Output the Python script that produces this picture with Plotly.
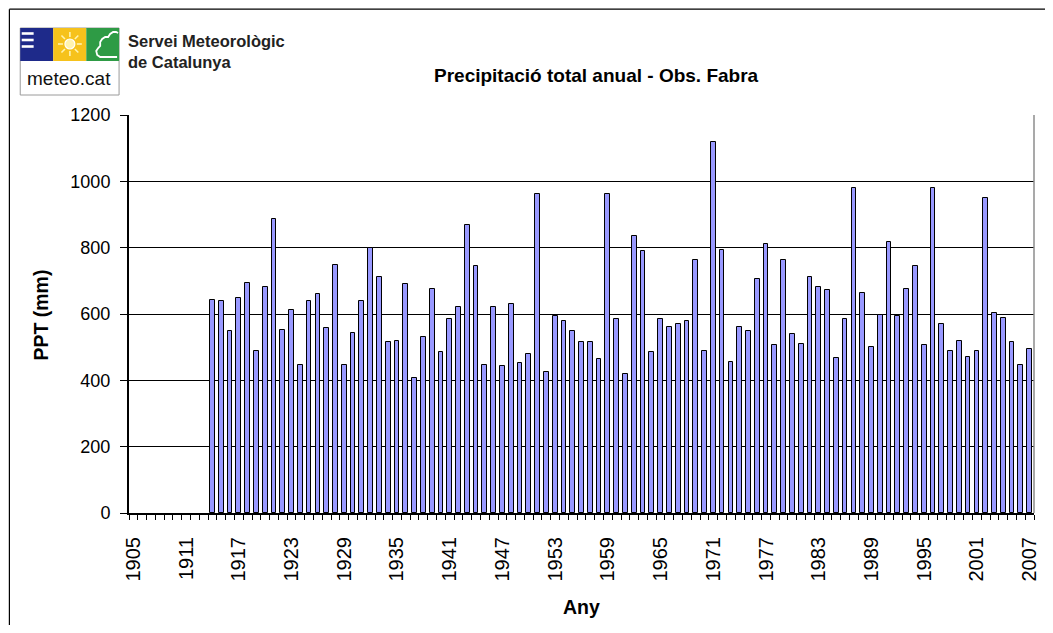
import math
import plotly.graph_objects as go

# ---------------- data ----------------
years = list(range(1905, 2008))
precip_known = [
    643, 638, 548, 648, 694, 488, 680, 885, 552, 611,   # 1914-1923
    447, 638, 661, 557, 748, 447, 543, 638, 799, 713,   # 1924-1933
    516, 520, 689, 406, 530, 675, 484, 584, 620, 867,   # 1934-1943
    744, 447, 620, 442, 630, 452, 479, 963, 424, 593,   # 1944-1953
    579, 548, 516, 516, 465, 963, 584, 420, 835, 789,   # 1954-1963
    484, 584, 561, 571, 580, 762, 488, 1118, 794, 456,  # 1964-1973
    561, 548, 707, 812, 506, 762, 539, 511, 712, 680,   # 1974-1983
    671, 466, 584, 981, 662, 502, 598, 816, 593, 675,   # 1984-1993
    744, 506, 981, 571, 488, 520, 470, 488, 949, 602,   # 1994-2003
    588, 516, 447, 493,                                 # 2004-2007
]
precip = [None] * 9 + precip_known          # 1905-1913 without data
label_years = list(range(1905, 2008, 6))
label_text = [str(y) for y in label_years]
y_ticks = [0, 200, 400, 600, 800, 1000, 1200]

# ---------------- geometry helpers (page pixel -> paper) ----------------
OFF = 8                       # page body margin
W, H = 1053 - 2 * OFF, 633 - 2 * OFF
L, R, T, B = 129, 1040, 115, 513   # plot area in page pixels
PW, PH = R - L, B - T


def px(x):
    return (x - L) / PW


def py(y):
    return (B - y) / PH


FONT = "Arial, Liberation Sans, sans-serif"

fig = go.Figure()
fig.add_trace(go.Bar(
    x=years, y=precip, width=0.54,
    marker=dict(color="#9999FF", line=dict(color="#000000", width=1)),
    hoverinfo="x+y",
))

shapes = []
# outer frame: left and top edges
shapes.append(dict(type="line", xref="paper", yref="paper",
                   x0=px(8.6), x1=px(8.6), y0=py(9.2), y1=py(640),
                   line=dict(color="black", width=1.2), layer="below"))
shapes.append(dict(type="line", xref="paper", yref="paper",
                   x0=px(8.6), x1=px(1060), y0=py(9.2), y1=py(9.2),
                   line=dict(color="black", width=1.2), layer="below"))
# right border of plot area
shapes.append(dict(type="line", xref="paper", yref="paper",
                   x0=1, x1=1, y0=0, y1=1,
                   line=dict(color="#8c8c8c", width=1.5)))

# ---- logo ----
shapes.append(dict(type="rect", xref="paper", yref="paper",
                   x0=px(19.5), x1=px(119), y0=py(95), y1=py(28),
                   fillcolor="white", line=dict(color="#9a9a9a", width=1)))
shapes.append(dict(type="rect", xref="paper", yref="paper",
                   x0=px(19.5), x1=px(52.7), y0=py(61), y1=py(28),
                   fillcolor="#1e2a8a", line=dict(width=0)))
shapes.append(dict(type="rect", xref="paper", yref="paper",
                   x0=px(52.7), x1=px(86), y0=py(61), y1=py(28),
                   fillcolor="#f6c21c", line=dict(width=0)))
shapes.append(dict(type="rect", xref="paper", yref="paper",
                   x0=px(86), x1=px(119), y0=py(61), y1=py(28),
                   fillcolor="#2e9b45", line=dict(width=0)))
for yy in (33.5, 40, 46.5):
    shapes.append(dict(type="rect", xref="paper", yref="paper",
                       x0=px(21), x1=px(33), y0=py(yy + 1.3), y1=py(yy - 1.3),
                       fillcolor="white", line=dict(width=0)))
# sun
cx, cy = 69.5, 44
shapes.append(dict(type="circle", xref="paper", yref="paper",
                   x0=px(cx - 5), x1=px(cx + 5), y0=py(cy + 5), y1=py(cy - 5),
                   fillcolor="#fff3b0", line=dict(color="white", width=1.2)))
for k in range(8):
    a = k * math.pi / 4
    x0, y0 = cx + 7 * math.cos(a), cy + 7 * math.sin(a)
    x1, y1 = cx + 12 * math.cos(a), cy + 12 * math.sin(a)
    shapes.append(dict(type="line", xref="paper", yref="paper",
                       x0=px(x0), x1=px(x1), y0=py(y0), y1=py(y1),
                       line=dict(color="#fff3b0", width=1.6)))


def path_from(points):
    return "M " + " L ".join(f"{px(a):.5f},{py(b):.5f}" for a, b in points)


# cloud outline
cloud_pts = [(117, 57), (100, 57), (97, 55), (96, 51), (98, 48), (100, 46),
             (100, 42), (102, 39), (105, 37), (108, 37), (110, 34), (113, 32),
             (116, 32), (118, 33)]
shapes.append(dict(type="path", xref="paper", yref="paper",
                   path=path_from(cloud_pts),
                   line=dict(color="white", width=1.8)))

annotations = [
    dict(text="meteo.cat", x=px(69), y=py(78.5), xref="paper", yref="paper",
         showarrow=False, font=dict(family=FONT, size=19, color="#111111"),
         xanchor="center", yanchor="middle"),
    dict(text="<b>Servei Meteorològic<br>de Catalunya</b>", x=px(126), y=py(30),
         xref="paper", yref="paper", showarrow=False, align="left",
         font=dict(family=FONT, size=16.5, color="#222222"),
         xanchor="left", yanchor="top"),
    dict(text="<b>Precipitació total anual - Obs. Fabra</b>", x=px(600), y=py(75),
         xref="paper", yref="paper", showarrow=False,
         font=dict(family=FONT, size=19, color="black"),
         xanchor="center", yanchor="middle"),
    dict(text="<b>PPT (mm)</b>", x=px(40), y=py(315), xref="paper", yref="paper",
         showarrow=False, textangle=-90,
         font=dict(family=FONT, size=19.5, color="black"),
         xanchor="center", yanchor="middle"),
    dict(text="<b>Any</b>", x=px(585), y=py(607), xref="paper", yref="paper",
         showarrow=False, font=dict(family=FONT, size=19.5, color="black"),
         xanchor="center", yanchor="middle"),
]

fig.update_layout(
    width=W, height=H,
    margin=dict(l=L - OFF, r=W - (R - OFF), t=T - OFF, b=H - (B - OFF), pad=0),
    paper_bgcolor="white", plot_bgcolor="white",
    showlegend=False,
    bargap=0,
    shapes=shapes,
    annotations=annotations,
    font=dict(family=FONT, color="black"),
)

fig.update_xaxes(
    range=[1904.5, 2007.5],
    tickmode="array", tickvals=label_years, ticktext=label_text,
    tickangle=-90, ticks="",
    tickfont=dict(family=FONT, size=20, color="black"),
    ticklabelstandoff=14,
    ticklabeloverflow="allow",
    minor=dict(tickmode="array", tickvals=[y - 0.5 for y in years] + [2007.5],
               ticks="outside", ticklen=5, tickwidth=1.2, tickcolor="black",
               showgrid=False),
    showline=True, linecolor="black", linewidth=2,
    showgrid=False, zeroline=False,
)
fig.update_yaxes(
    range=[0, 1200],
    tickmode="array", tickvals=y_ticks,
    ticks="outside", ticklen=7, tickwidth=1.2, tickcolor="black",
    tickfont=dict(family=FONT, size=18, color="black"),
    ticklabelstandoff=6,
    showline=True, linecolor="black", linewidth=2,
    showgrid=True, gridcolor="black", gridwidth=1.2,
    zeroline=False,
)

fig.write_html("out.html")
